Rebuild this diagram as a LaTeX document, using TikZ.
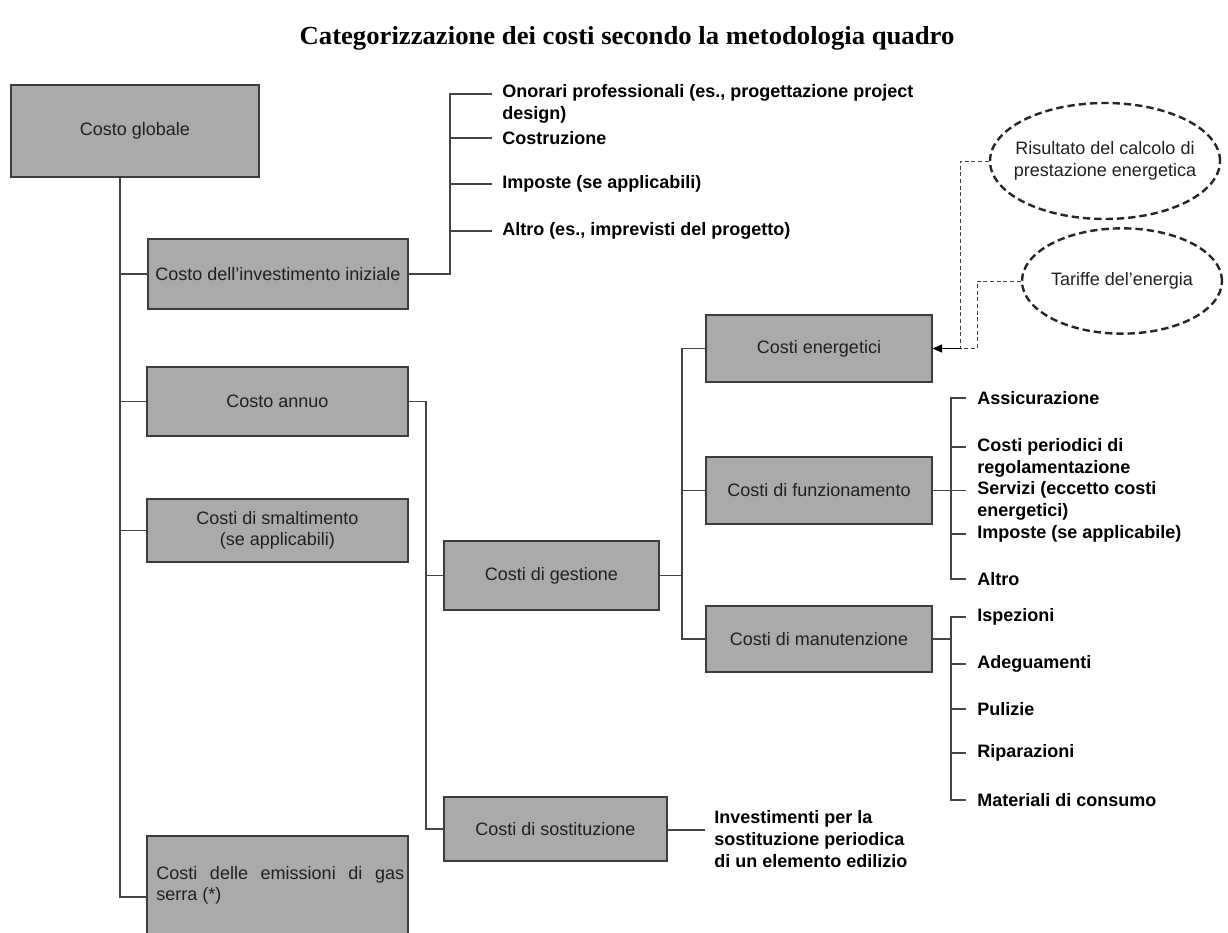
\documentclass[tikz,border=0pt]{standalone}
\usepackage{fontspec}
\setmainfont{Liberation Sans}
\newfontfamily\titlefont{Liberation Serif}
\usetikzlibrary{shapes.geometric,arrows.meta}
\definecolor{boxfill}{HTML}{AAAAAA}
\definecolor{boxline}{HTML}{3C3C3C}
\definecolor{conn}{HTML}{444444}
\definecolor{boxtext}{HTML}{202020}
\begin{document}
\begin{tikzpicture}[x=0.75pt,y=-0.75pt,
  box/.style={draw=boxline, line width=1pt, fill=boxfill, inner sep=0pt, align=center,
    font=\fontsize{13.5}{15.75}\selectfont, text=boxtext},
  sz/.style 2 args={minimum width={#1*0.75pt}, minimum height={#2*0.75pt}},
  ln/.style={draw=conn, line width=1pt},
  item/.style={anchor=west, align=left, inner sep=0pt, font=\bfseries\fontsize{13.5}{16}\selectfont, text=black},
  oval/.style={ellipse, draw=black!85, dash pattern=on 5.5pt off 3pt, line width=1.8pt, inner xsep=-14pt, inner ysep=0pt,
    align=center, font=\fontsize{13.5}{16}\selectfont, text=boxtext},
  dsh/.style={draw=black!75, line width=0.6pt, dash pattern=on 3pt off 2pt}]
\clip (0,0) rectangle (1228,932);
\fill[white] (0,0) rectangle (1228,932);

% title
\node[inner sep=0pt] (title) at (627,38) {\resizebox{491pt}{\height}{\titlefont\bfseries\fontsize{19.5}{22}\selectfont Categorizzazione dei costi secondo la metodologia quadro}};

% boxes
\node[box,sz={248}{92}] (glob) at (135,131) {Costo globale};
\node[box,sz={260}{70}] (inv) at (278,274) {Costo dell’investimento iniziale};
\node[box,sz={261}{69}] (ann) at (277.5,401.5) {Costo annuo};
\node[box,sz={261}{63}] (sma) at (277.5,530.5) {Costi di smaltimento\\(se applicabili)};
\node[box,sz={261}{122}] (emi) at (277.5,897) {};
\node[anchor=north west, text width=186pt, align=justify, inner sep=0pt,
  font=\fontsize{13.5}{15.75}\selectfont, text=boxtext] (emit) at (156,866)
  {\hbadness=10000 Costi delle emissioni di gas serra (*)};
\node[box,sz={215}{69}] (ges) at (551.5,575.5) {Costi di gestione};
\node[box,sz={223}{64}] (sos) at (555.5,829) {Costi di sostituzione};
\node[box,sz={226}{67}] (ene) at (819,348.5) {Costi energetici};
\node[box,sz={226}{67}] (fun) at (819,490.5) {Costi di funzionamento};
\node[box,sz={226}{66}] (man) at (819,639) {Costi di manutenzione};

% trunk
\coordinate (tx) at (120,0);
\draw[ln] (tx |- glob.south) -- (tx |- emi.west) -- (emi.west);
\draw[ln] (tx |- inv.west) -- (inv.west);
\draw[ln] (tx |- ann.west) -- (ann.west);
\draw[ln] (tx |- sma.west) -- (sma.west);

% initial investment list
\coordinate (bx1) at (450,0);
\coordinate (i1t) at (492,94);
\coordinate (i2t) at (492,138);
\coordinate (i3t) at (492,184);
\coordinate (i4t) at (492,231);
\node[item] (i1) at (502,104) {Onorari professionali (es., progettazione project\\design)};
\node[item] (i2) at (502,138) {Costruzione};
\node[item] (i3) at (502,184) {Imposte (se applicabili)};
\node[item] (i4) at (502,231) {Altro (es., imprevisti del progetto)};
\draw[ln] (inv.east) -- (bx1 |- inv.east) -- (bx1 |- i1t) -- (i1t);
\foreach \t in {i2t,i3t,i4t} \draw[ln] (bx1 |- \t) -- (\t);

% annual cost
\coordinate (ax) at (426,0);
\draw[ln] (ann.east) -- (ax |- ann.east) -- (ax |- sos.west) -- (sos.west);
\draw[ln] (ax |- ges.west) -- (ges.west);

% management
\coordinate (gx) at (682,0);
\draw[ln] (ges.east) -- (gx |- ges.east);
\draw[ln] (ene.west) -- (gx |- ene.west) -- (gx |- man.west) -- (man.west);
\draw[ln] (gx |- fun.west) -- (fun.west);

% operating list
\coordinate (fx) at (951,0);
\coordinate (f1t) at (966,398);
\coordinate (f2t) at (966,447);
\coordinate (f3t) at (966,490.5);
\coordinate (f4t) at (966,534);
\coordinate (f5t) at (966,579);
\node[item] (f1) at (977,398) {Assicurazione};
\node[item] (f2) at (977,458) {Costi periodici di\\regolamentazione};
\node[item] (f3) at (977,501) {Servizi (eccetto costi\\energetici)};
\node[item] (f4) at (977,534) {Imposte (se applicabile)};
\node[item] (f5) at (977,579) {Altro};
\draw[ln] (fun.east) -- (fx |- fun.east);
\draw[ln] (f1t) -- (fx |- f1t) -- (fx |- f5t) -- (f5t);
\foreach \t in {f2t,f3t,f4t} \draw[ln] (fx |- \t) -- (\t);

% maintenance list
\coordinate (m1t) at (966,617);
\coordinate (m2t) at (966,664);
\coordinate (m3t) at (966,709);
\coordinate (m4t) at (966,753);
\coordinate (m5t) at (966,800);
\node[item] (m1) at (977,617) {Ispezioni};
\node[item] (m2) at (977,664) {Adeguamenti};
\node[item] (m3) at (977,709) {Pulizie};
\node[item] (m4) at (977,753) {Riparazioni};
\node[item] (m5) at (977,800) {Materiali di consumo};
\draw[ln] (man.east) -- (fx |- man.east);
\draw[ln] (m1t) -- (fx |- m1t) -- (fx |- m5t) -- (m5t);
\foreach \t in {m2t,m3t,m4t} \draw[ln] (fx |- \t) -- (\t);

% replacement
\coordinate (st) at (705,830);
\node[item, font=\bfseries\fontsize{13.5}{16.2}\selectfont] (sost) at (714,839) {Investimenti per la\\sostituzione periodica\\di un elemento edilizio};
\draw[ln, line width=1.4pt] (sos.east |- st) -- (st);

% energy inputs
\node[oval, minimum width=172.5pt, minimum height=87pt] (e1) at (1105,161) {Risultato del calcolo di\\prestazione energetica};
\node[oval, minimum width=150pt, minimum height=79pt] (e2) at (1122,281) {Tariffe del’energia};
\coordinate (j1) at (960,0);
\coordinate (j2) at (977,0);
\draw[dsh] (e1.west) -- (j1 |- e1.west) -- (j1 |- ene.east);
\draw[dsh] (e2.west) -- (j2 |- e2.west) -- (j2 |- ene.east) -- (j1 |- ene.east);
\draw[ln, draw=black, line width=1pt, -{Triangle[length=7pt,width=6pt]}] (j1 |- ene.east) -- (ene.east);
\end{tikzpicture}
\end{document}
